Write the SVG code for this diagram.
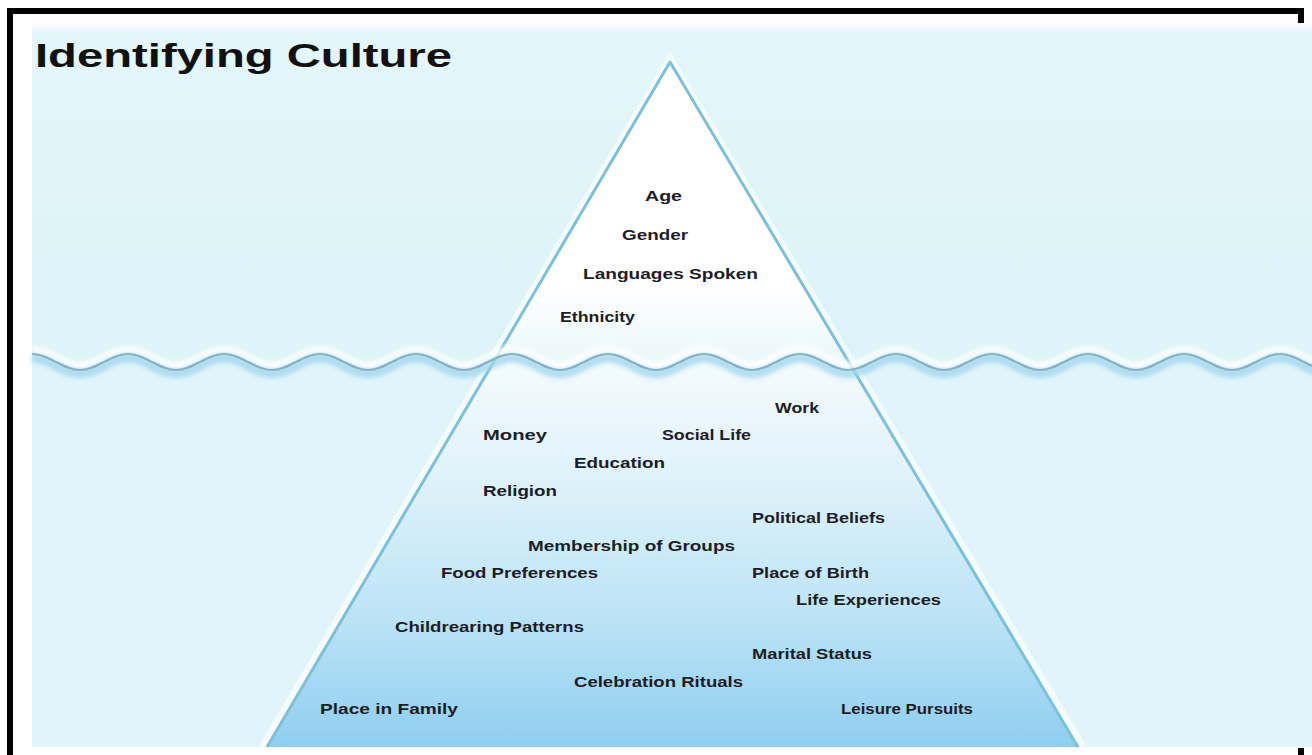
<svg xmlns="http://www.w3.org/2000/svg" width="1312" height="755" viewBox="0 0 1312 755">
  <defs>
    <linearGradient id="bgTop" x1="0" y1="0" x2="0" y2="1">
      <stop offset="0" stop-color="#ffffff"/>
      <stop offset="0.03" stop-color="#e4f6f9"/>
      <stop offset="1" stop-color="#dcf3f7"/>
    </linearGradient>
    <linearGradient id="iceTop" x1="0" y1="0" x2="0" y2="1">
      <stop offset="0" stop-color="#ffffff"/>
      <stop offset="0.75" stop-color="#ffffff"/>
      <stop offset="1" stop-color="#eaf7fb"/>
    </linearGradient>
    <linearGradient id="iceBottom" gradientUnits="userSpaceOnUse" x1="0" y1="362" x2="0" y2="747">
      <stop offset="0" stop-color="#f4fbfd"/>
      <stop offset="0.3" stop-color="#dff2fa"/>
      <stop offset="0.65" stop-color="#bde4f6"/>
      <stop offset="1" stop-color="#8fcef0"/>
    </linearGradient>
    <filter id="blur3" x="-5%" y="-100%" width="110%" height="300%">
      <feGaussianBlur stdDeviation="2.5"/>
    </filter>
    <filter id="blur1" x="-5%" y="-100%" width="110%" height="300%">
      <feGaussianBlur stdDeviation="0.6"/>
    </filter>
    <path id="wave" d="M32,354 C49.6,354 62.4,370 80,370 S110.4,354 128,354 S158.4,370 176,370 S206.4,354 224,354 S254.4,370 272,370 S302.4,354 320,354 S350.4,370 368,370 S398.4,354 416,354 S446.4,370 464,370 S494.4,354 512,354 S542.4,370 560,370 S590.4,354 608,354 S638.4,370 656,370 S686.4,354 704,354 S734.4,370 752,370 S782.4,354 800,354 S830.4,370 848,370 S878.4,354 896,354 S926.4,370 944,370 S974.4,354 992,354 S1022.4,370 1040,370 S1070.4,354 1088,354 S1118.4,370 1136,370 S1166.4,354 1184,354 S1214.4,370 1232,370 S1262.4,354 1280,354 S1310.4,370 1328,370"/>
  </defs>
  <style>
    .lbl { font-family: "Liberation Sans", Arial, sans-serif; font-weight: bold; font-size: 15px; fill: #1d1d26; }
    .title { font-family: "Liberation Sans", Arial, sans-serif; font-weight: bold; font-size: 34px; fill: #111111; }
    .edge { fill: none; stroke: #7cc1d7; stroke-width: 3; stroke-linejoin: round; }
    .frame { fill: #000000; }
  </style>

  <!-- page -->
  <rect x="0" y="0" width="1312" height="755" fill="#ffffff"/>

  <!-- background picture -->
  <g id="background">
    <rect x="32" y="22" width="1280" height="340" fill="url(#bgTop)"/>
    <rect x="32" y="362" width="1280" height="385" fill="#e0f4fa"/>
  </g>

  <!-- iceberg -->
  <g id="iceberg">
    <polygon points="670,62 495,362 847,362" fill="url(#iceTop)"/>
    <polygon points="495,362 847,362 1078,747 267,747" fill="url(#iceBottom)"/>
    <path d="M262,747 L670,58 L1083,747" fill="none" stroke="#ffffff" stroke-width="7" opacity="0.6"/>
    <path class="edge" d="M267,747 L670,62 L1078,747"/>
  </g>

  <!-- water line -->
  <g id="waterline">
    <use href="#wave" transform="translate(0,-4)" fill="none" stroke="#ffffff" stroke-width="9" opacity="0.85" filter="url(#blur3)"/>
    <use href="#wave" transform="translate(0,4)" fill="none" stroke="#9fd5ee" stroke-width="8" opacity="0.85" filter="url(#blur3)"/>
    <use href="#wave" fill="none" stroke="#86b2c3" stroke-width="2" filter="url(#blur1)"/>
  </g>

  <!-- title -->
  <g id="title">
    <text class="title" x="35" y="67" textLength="417" lengthAdjust="spacingAndGlyphs">Identifying Culture</text>
  </g>

  <!-- labels above water -->
  <g id="label-age"><text class="lbl" x="645" y="201" textLength="37" lengthAdjust="spacingAndGlyphs">Age</text></g>
  <g id="label-gender"><text class="lbl" x="622" y="240" textLength="66" lengthAdjust="spacingAndGlyphs">Gender</text></g>
  <g id="label-languages"><text class="lbl" x="583" y="279" textLength="175" lengthAdjust="spacingAndGlyphs">Languages Spoken</text></g>
  <g id="label-ethnicity"><text class="lbl" x="560" y="322" textLength="75" lengthAdjust="spacingAndGlyphs">Ethnicity</text></g>

  <!-- labels below water -->
  <g id="label-work"><text class="lbl" x="775" y="413" textLength="44" lengthAdjust="spacingAndGlyphs">Work</text></g>
  <g id="label-money"><text class="lbl" x="483" y="440" textLength="64" lengthAdjust="spacingAndGlyphs">Money</text></g>
  <g id="label-social"><text class="lbl" x="662" y="440" textLength="89" lengthAdjust="spacingAndGlyphs">Social Life</text></g>
  <g id="label-education"><text class="lbl" x="574" y="468" textLength="91" lengthAdjust="spacingAndGlyphs">Education</text></g>
  <g id="label-religion"><text class="lbl" x="483" y="496" textLength="74" lengthAdjust="spacingAndGlyphs">Religion</text></g>
  <g id="label-political"><text class="lbl" x="752" y="523" textLength="133" lengthAdjust="spacingAndGlyphs">Political Beliefs</text></g>
  <g id="label-membership"><text class="lbl" x="528" y="551" textLength="207" lengthAdjust="spacingAndGlyphs">Membership of Groups</text></g>
  <g id="label-food"><text class="lbl" x="441" y="578" textLength="157" lengthAdjust="spacingAndGlyphs">Food Preferences</text></g>
  <g id="label-birth"><text class="lbl" x="752" y="578" textLength="117" lengthAdjust="spacingAndGlyphs">Place of Birth</text></g>
  <g id="label-life"><text class="lbl" x="796" y="605" textLength="145" lengthAdjust="spacingAndGlyphs">Life Experiences</text></g>
  <g id="label-childrearing"><text class="lbl" x="395" y="632" textLength="189" lengthAdjust="spacingAndGlyphs">Childrearing Patterns</text></g>
  <g id="label-marital"><text class="lbl" x="752" y="659" textLength="120" lengthAdjust="spacingAndGlyphs">Marital Status</text></g>
  <g id="label-celebration"><text class="lbl" x="574" y="687" textLength="169" lengthAdjust="spacingAndGlyphs">Celebration Rituals</text></g>
  <g id="label-family"><text class="lbl" x="320" y="714" textLength="138" lengthAdjust="spacingAndGlyphs">Place in Family</text></g>
  <g id="label-leisure"><text class="lbl" x="841" y="714" textLength="132" lengthAdjust="spacingAndGlyphs">Leisure Pursuits</text></g>

  <!-- black frame -->
  <g id="frame">
    <rect class="frame" x="7" y="8" width="6" height="747"/>
    <rect class="frame" x="7" y="8" width="1297" height="6"/>
    <rect class="frame" x="1298" y="8" width="6" height="15"/>
    <rect class="frame" x="1298" y="748" width="6" height="7"/>
  </g>
</svg>
